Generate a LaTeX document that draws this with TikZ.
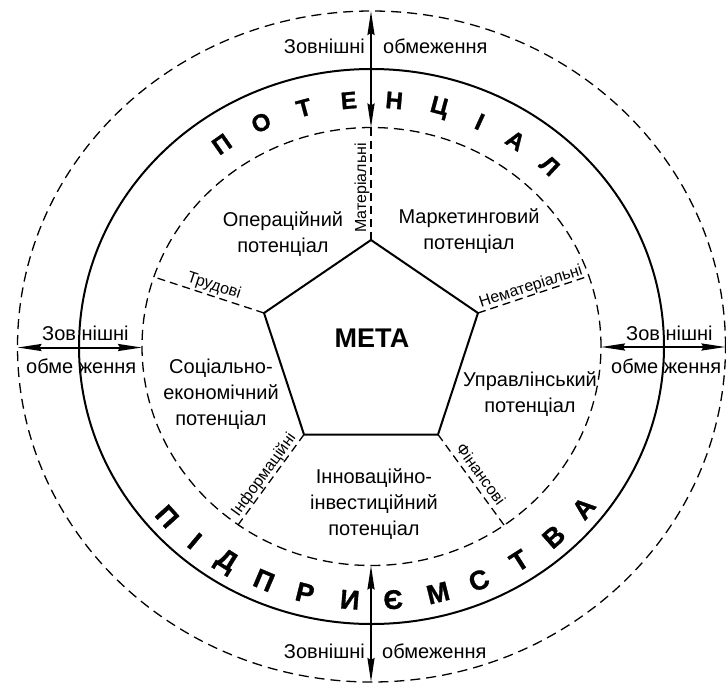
\documentclass[tikz,border=0pt]{standalone}
\usepackage{fontspec}
\setmainfont{Liberation Sans}
\newfontfamily\heavyfont[FakeBold=1.2]{Liberation Sans}
\usetikzlibrary{arrows.meta}
\begin{document}
\begin{tikzpicture}[x=1pt,y=-1pt,
  lbl/.style={font=\fontsize{20}{26}\selectfont, align=center, inner sep=0pt},
  sml/.style={font=\fontsize{16}{18}\selectfont, inner sep=0pt},
  bigt/.style={font=\heavyfont\fontsize{24}{26}\selectfont\bfseries, inner sep=0pt},
  bigb/.style={font=\heavyfont\fontsize{27}{28}\selectfont\bfseries, inner sep=0pt},
  dsh/.style={dash pattern=on 10pt off 6pt, line width=1.3pt},
  rad/.style={dash pattern=on 8pt off 5pt, line width=1.3pt},
  solidln/.style={line width=2pt},
  arr/.style={line width=2pt, {Stealth[length=24pt,width=7pt,inset=2pt]}-{Stealth[length=24pt,width=7pt,inset=2pt]}}
]
\useasboundingbox (0,0) rectangle (726,686);
\coordinate (C) at (371.5,346.5);
% circles
\draw[dsh] (C) ellipse [x radius=354pt, y radius=335.5pt];
\draw[solidln] (C) ellipse [x radius=292.5pt, y radius=277.5pt];
\draw[dsh] (C) ellipse [x radius=229.5pt, y radius=219pt];
% pentagon
\coordinate (p1) at (371,240);
\coordinate (p2) at (478,313);
\coordinate (p3) at (438,434.5);
\coordinate (p4) at (304,434.5);
\coordinate (p5) at (264,313);
\draw[solidln, line join=miter] (p1)--(p2)--(p3)--(p4)--(p5)--cycle;
\node[font=\fontsize{27}{30}\selectfont\bfseries, inner sep=0pt] (meta) at (372,338) {МЕТА};
% radial dashed lines
\coordinate (e1) at (371,127.5);
\coordinate (e2) at (589,276);
\coordinate (e3) at (504,525);
\coordinate (e4) at (238,525);
\coordinate (e5) at (154,277);
\draw[rad] (p1) -- (e1);
\draw[rad] (p2) -- (e2);
\draw[rad] (p3) -- (e3);
\draw[rad] (p4) -- (e4);
\draw[rad] (p5) -- (e5);
\node[sml, rotate=90] (l1) at (362,188) {Матеріальні};
\node[sml, rotate=18] (l2) at (531,287) {Нематеріальні};
\node[sml, rotate=-54] (l3) at (481,474) {Фінансові};
\node[sml, rotate=54] (l4) at (264,475) {Інформаційні};
\node[sml, rotate=-18] (l5) at (214,286) {Трудові};
% sector labels
\node[lbl] (s1) at (283,234) {Операційний\\потенціал};
\node[lbl] (s2) at (469,231) {Маркетинговий\\потенціал};
\node[lbl] (s3) at (530,394) {Управлінський\\потенціал};
\node[lbl] (s4) at (374,504) {Інноваційно-\\інвестиційний\\потенціал};
\node[lbl] (s5) at (221,394) {Соціально-\\економічний\\потенціал};
% arrows
\coordinate (at1) at (371,11);
\coordinate (at2) at (371,127.5);
\coordinate (ab1) at (371,565.5);
\coordinate (ab2) at (371,682);
\coordinate (al1) at (17.5,347.5);
\coordinate (al2) at (142,347.5);
\coordinate (ar1) at (601,347);
\coordinate (ar2) at (725.5,347);
\draw[arr] (at1) -- (at2);
\draw[arr] (ab1) -- (ab2);
\draw[arr] (al1) -- (al2);
\draw[arr] (ar1) -- (ar2);
% outer labels
\node[lbl, anchor=base east] (zt1) at (365,53) {Зовнішні};
\node[lbl, anchor=base west] (zt2) at (383,53) {обмеження};
\node[lbl, anchor=base east] (zb1) at (365,658) {Зовнішні};
\node[lbl, anchor=base west] (zb2) at (382,658) {обмеження};
\node[lbl, anchor=base west] (zl1) at (42,340) {Зов нішні};
\node[lbl, anchor=base west] (zl2) at (26,373) {обме ження};
\node[lbl, anchor=base west] (zr1) at (626,340) {Зов нішні};
\node[lbl, anchor=base west] (zr2) at (611,373) {обме ження};
% curved titles
\foreach \l/\a [count=\i] in {П/125,О/115,Т/105,Е/95,Н/85,Ц/75,І/65.5,А/56.5,Л/47}
  \node[bigt, rotate=\a-90] (t\i) at ({371.5+261*cos(\a)},{346.5-247*sin(\a)}) {\l};
\foreach \l/\a [count=\i] in {П/138,І/130,Д/122,П/113,Р/104,И/94.5,Є/85.5,М/76,С/67,Т/57.5,В/48.5,А/39.5}
  \node[bigb, rotate=90-\a] (b\i) at ({371.5+275*cos(\a)},{346.5+254*sin(\a)}) {\l};
\end{tikzpicture}
\end{document}
